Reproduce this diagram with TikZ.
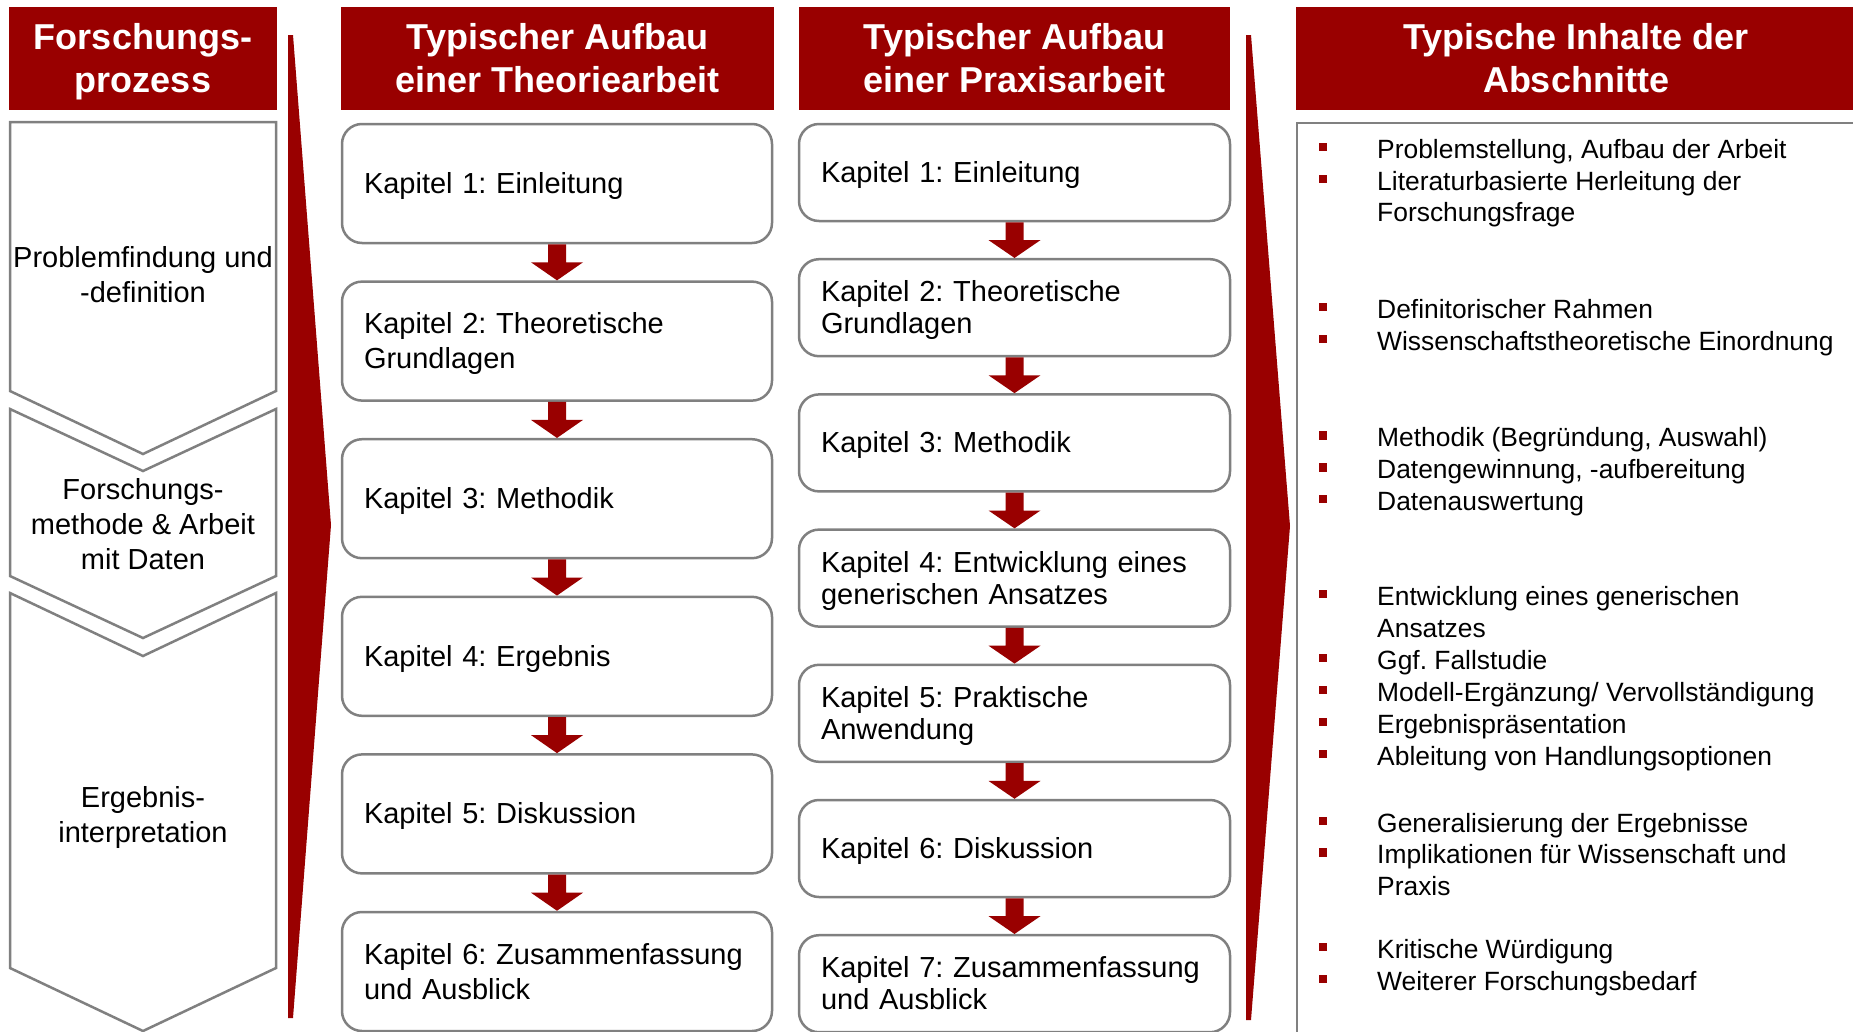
\documentclass[tikz,border=0pt]{standalone}
\usepackage{fontspec}
\setmainfont{Liberation Sans}
\usetikzlibrary{calc}
\definecolor{dred}{RGB}{153,0,0}
\definecolor{bgray}{RGB}{128,128,128}
\newcommand{\sa}{\rule{0pt}{0.905em}}
\newcommand{\sd}{\rule[-0.212em]{0pt}{0pt}}
\newcommand{\pfeil}[2]{%
  \fill[dred] ($(#1.south)+(-9pt,0)$) -- ($(#1.south)+(9pt,0)$)
    -- ($(#1.south)!0.5!(#2.north)+(9pt,0)$) -- ($(#1.south)!0.5!(#2.north)+(26pt,0)$)
    -- (#2.north)
    -- ($(#1.south)!0.5!(#2.north)+(-26pt,0)$) -- ($(#1.south)!0.5!(#2.north)+(-9pt,0)$) -- cycle;}
\newcommand{\bitem}[3]{%
  \node[bulletsq] (#1b) at (1323,{#2-11}) {};
  \node[itemtext] (#1) at (1377,{#2-23.9}) {\sa #3};}
\begin{document}
\frenchspacing
\begin{tikzpicture}[x=1pt,y=-1pt,
  header/.style={fill=dred, text=white, font=\fontsize{36}{43}\selectfont\bfseries\frenchspacing,
    align=center, inner sep=0pt, minimum height=103pt},
  kbox/.style={draw=bgray, line width=2.5pt, rounded corners=20pt, fill=white,
    align=left, inner xsep=22pt, inner ysep=0pt, font=\fontsize{29}{35}\selectfont\frenchspacing},
  pbox/.style={kbox, font=\fontsize{29}{32}\selectfont\frenchspacing, text width=387pt, minimum height=97pt},
  tbox/.style={kbox, text width=386pt, minimum height=119pt},
  chev/.style={draw=bgray, line width=2.5pt, line join=miter},
  chevtext/.style={align=center, inner sep=0pt, font=\fontsize{29}{35}\selectfont\frenchspacing},
  bulletsq/.style={rectangle, fill=dred, minimum size=8.5pt, inner sep=0pt},
  itemtext/.style={anchor=north west, inner sep=0pt, align=left,
    font=\fontsize{26.4}{31.8}\selectfont\frenchspacing}]
\useasboundingbox (0,0) rectangle (1853,1031);
\clip (0,0) rectangle (1853,1031);
\fill[white] (0,0) rectangle (1853,1031);

% headers
\node[header, minimum width=268pt] (h1) at (143,58.5) {\sa Forschungs-\\prozess\sd};
\node[header, minimum width=433pt] (h2) at (557.5,58.5) {\sa Typischer Aufbau\\einer Theoriearbeit\sd};
\node[header, minimum width=431pt] (h3) at (1014.5,58.5) {\sa Typischer Aufbau\\einer Praxisarbeit\sd};
\node[header, minimum width=560pt] (h4) at (1576,58.5) {\sa Typische Inhalte der\\Abschnitte\sd};

% research process chevrons
\draw[chev] (10,122) -- (276,122) -- (276,391) -- (143,454) -- (10,391) -- cycle;
\draw[chev] (10,409) -- (143,471) -- (276,409) -- (276,576) -- (143,638) -- (10,576) -- cycle;
\draw[chev] (10,593) -- (143,656) -- (276,593) -- (276,968) -- (143,1031) -- (10,968) -- cycle;
\node[chevtext] (c1) at (143,274.5) {\sa Problemfindung und\\-definition\sd};
\node[chevtext] (c2) at (143,524) {\sa Forschungs-\\methode \& Arbeit\\mit Daten\sd};
\node[chevtext] (c3) at (143,814.5) {\sa Ergebnis-\\interpretation\sd};

% thin red wedges
\fill[dred] (288,35) -- (293,35) -- (331,525) -- (293,1018) -- (288,1018) -- cycle;
\fill[dred] (1246,35) -- (1251,35) -- (1290,526) -- (1251,1020) -- (1246,1020) -- cycle;

% theory thesis
\node[tbox] (t1) at (557,183.5) {\sa Kapitel 1: Einleitung\sd};
\node[tbox] (t2) at (557,341.1) {\sa Kapitel 2: Theoretische\\Grundlagen\sd};
\node[tbox] (t3) at (557,498.7) {\sa Kapitel 3: Methodik\sd};
\node[tbox] (t4) at (557,656.3) {\sa Kapitel 4: Ergebnis\sd};
\node[tbox] (t5) at (557,813.9) {\sa Kapitel 5: Diskussion\sd};
\node[tbox] (t6) at (557,971.5) {\sa Kapitel 6: Zusammenfassung\\und Ausblick\sd};
\pfeil{t1}{t2}\pfeil{t2}{t3}\pfeil{t3}{t4}\pfeil{t4}{t5}\pfeil{t5}{t6}

% practice thesis
\node[pbox] (p1) at (1014.5,172.5) {\sa Kapitel 1: Einleitung\sd};
\node[pbox] (p2) at (1014.5,307.7) {\sa Kapitel 2: Theoretische\\Grundlagen\sd};
\node[pbox] (p3) at (1014.5,442.9) {\sa Kapitel 3: Methodik\sd};
\node[pbox] (p4) at (1014.5,578.1) {\sa Kapitel 4: Entwicklung eines\\generischen Ansatzes\sd};
\node[pbox] (p5) at (1014.5,713.3) {\sa Kapitel 5: Praktische\\Anwendung\sd};
\node[pbox] (p6) at (1014.5,848.5) {\sa Kapitel 6: Diskussion\sd};
\node[pbox] (p7) at (1014.5,983.7) {\sa Kapitel 7: Zusammenfassung\\und Ausblick\sd};
\pfeil{p1}{p2}\pfeil{p2}{p3}\pfeil{p3}{p4}\pfeil{p4}{p5}\pfeil{p5}{p6}\pfeil{p6}{p7}

% contents column
\draw[bgray, line width=2.5pt] (1297,123) rectangle (1880,1060);
\bitem{i1}{158}{Problemstellung, Aufbau der Arbeit}
\bitem{i2}{190}{Literaturbasierte Herleitung der\\Forschungsfrage}
\bitem{i3}{318}{Definitorischer Rahmen}
\bitem{i4}{350}{Wissenschaftstheoretische Einordnung}
\bitem{i5}{446.5}{Methodik (Begründung, Auswahl)}
\bitem{i6}{478.3}{Datengewinnung, -aufbereitung}
\bitem{i7}{510}{Datenauswertung}
\bitem{i8}{605}{Entwicklung eines generischen\\Ansatzes}
\bitem{i9}{669}{Ggf. Fallstudie}
\bitem{i10}{701}{Modell-Ergänzung/ Vervollständigung}
\bitem{i11}{733}{Ergebnispräsentation}
\bitem{i12}{765}{Ableitung von Handlungsoptionen}
\bitem{i13}{832}{Generalisierung der Ergebnisse}
\bitem{i14}{863.5}{Implikationen für Wissenschaft und\\Praxis}
\bitem{i15}{958}{Kritische Würdigung}
\bitem{i16}{990}{Weiterer Forschungsbedarf}
\end{tikzpicture}
\end{document}
